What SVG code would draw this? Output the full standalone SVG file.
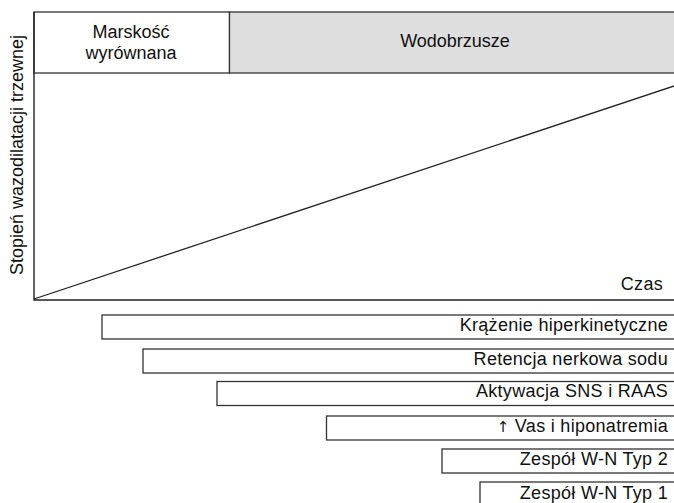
<svg xmlns="http://www.w3.org/2000/svg" width="674" height="503" viewBox="0 0 674 503">
<style>
text{font-family:"Liberation Sans",Arial,sans-serif;font-size:18px;fill:#111}
.bar{fill:#fff;stroke:#333;stroke-width:1.3}
.r{text-anchor:end;letter-spacing:0.3px}
.c{text-anchor:middle}
.ln{stroke:#222;stroke-width:1.4;fill:none}
.arr{font-family:"DejaVu Sans",sans-serif;font-size:15px;fill:#111}
</style>
<rect width="674" height="503" fill="#fff"/>
<g id="phase-compensated">
<rect x="34" y="12" width="195.5" height="61" fill="#fff" stroke="#333" stroke-width="1.3"/>
<text class="c" x="131" y="38">Marskość</text>
<text class="c" x="131" y="59">wyrównana</text>
</g>
<g id="phase-ascites">
<rect x="229.5" y="12" width="450" height="61" fill="#dedede" stroke="#333" stroke-width="1.3"/>
<text class="c" x="455" y="47">Wodobrzusze</text>
</g>
<g id="axes">
<path class="ln" d="M34,12 V300 H680"/>
<path d="M34,299 L680,84" stroke="#222" stroke-width="1.3" fill="none"/>
<text transform="translate(23,155) rotate(-90)" class="c">Stopień wazodilatacji trzewnej</text>
<text x="663" y="290" class="r">Czas</text>
</g>
<g id="bar1"><rect class="bar" x="102" y="315" width="590" height="24"/><text class="r" x="668" y="331">Krążenie hiperkinetyczne</text></g>
<g id="bar2"><rect class="bar" x="143" y="349" width="550" height="24"/><text class="r" x="668" y="365">Retencja nerkowa sodu</text></g>
<g id="bar3"><rect class="bar" x="217" y="381.5" width="480" height="24"/><text class="r" x="668" y="397">Aktywacja SNS i RAAS</text></g>
<g id="bar4"><rect class="bar" x="326.5" y="416" width="370" height="24"/><text class="r" x="668" y="432"><tspan class="arr">↑</tspan> Vas i hiponatremia</text></g>
<g id="bar5"><rect class="bar" x="442" y="449" width="260" height="24"/><text class="r" x="668" y="465">Zespół W-N Typ 2</text></g>
<g id="bar6"><rect class="bar" x="480" y="482" width="220" height="30"/><text class="r" x="668" y="499">Zespół W-N Typ 1</text></g>
</svg>
